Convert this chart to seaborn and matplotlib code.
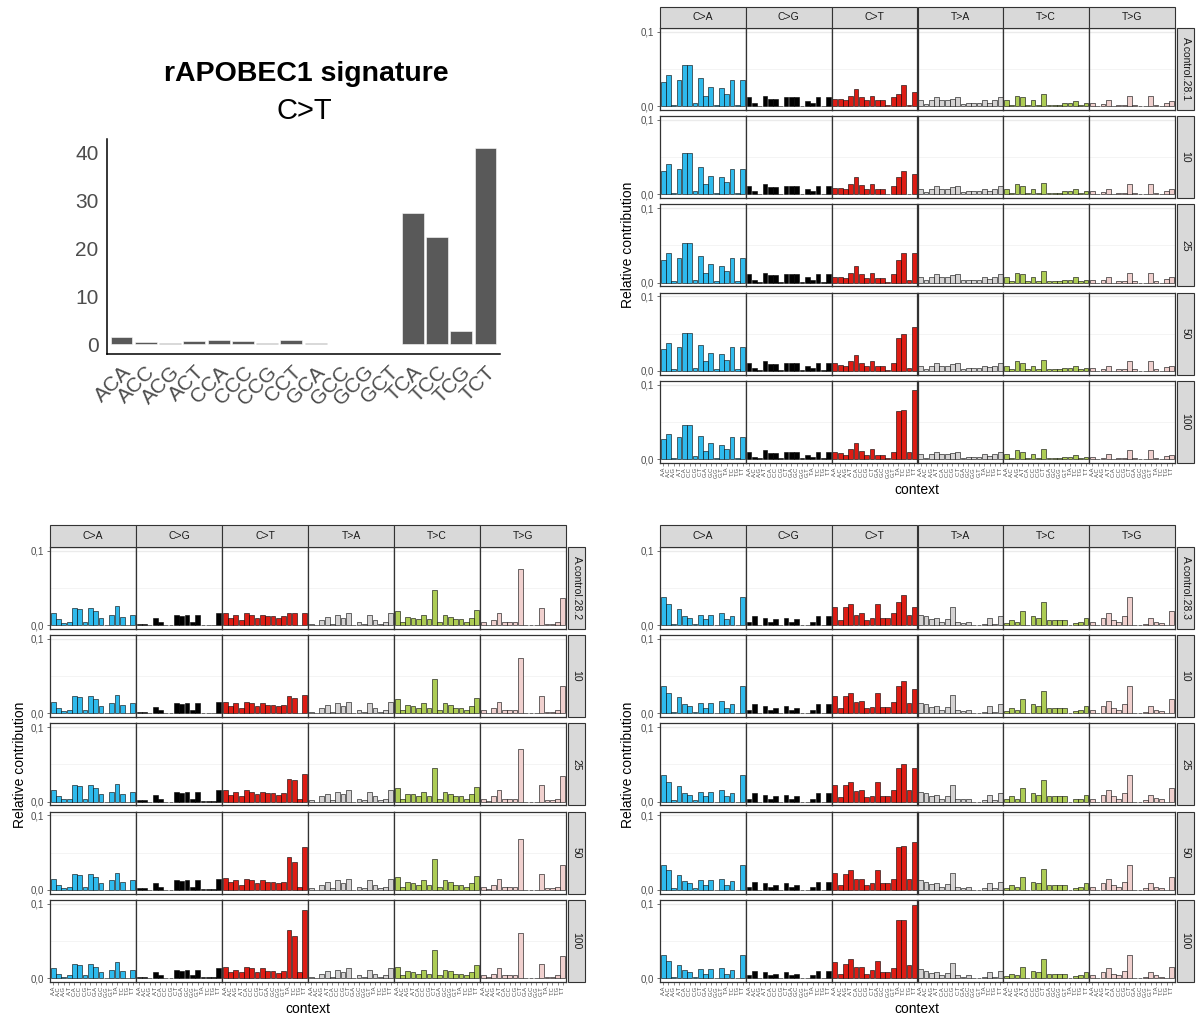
import numpy as np
import pandas as pd
import matplotlib
matplotlib.use("Agg")
import matplotlib.pyplot as plt
from matplotlib.patches import Rectangle
import seaborn as sns

W, H = 1198, 1019

# ---------------------------------------------------------------- data
# rAPOBEC1 signature, C>T trinucleotide contexts (percent)
sig_contexts = ["ACA", "ACC", "ACG", "ACT", "CCA", "CCC", "CCG", "CCT",
                "GCA", "GCC", "GCG", "GCT", "TCA", "TCC", "TCG", "TCT"]
sig_values = [1.5, 0.4, 0.3, 0.6, 0.9, 0.6, 0.3, 0.9,
              0.3, 0.15, 0.15, 0.05, 27.4, 22.5, 2.8, 41.0]

mut_types = ["C>A", "C>G", "C>T", "T>A", "T>C", "T>G"]
mut_colors = ["#2EBAED", "#000000", "#DE1C14", "#D4D2D2", "#ADCC54", "#F0D0CE"]
tick_contexts = ["A.A", "A.C", "A.G", "A.T", "C.A", "C.C", "C.G", "C.T",
                 "G.A", "G.C", "G.G", "G.T", "T.A", "T.C", "T.G", "T.T"]

rows_s1 = ["A.control.28.1", "10", "25", "50", "100"]
rows_s2 = ["A.control.28.2", "10", "25", "50", "100"]
rows_s3 = ["A.control.28.3", "10", "25", "50", "100"]

# 96-channel profiles, relative contribution in thousandths
# (order: C>A, C>G, C>T, T>A, T>C, T>G; 16 contexts each)
s1_ctrl = [
    33, 42, 2, 35, 56, 56, 4, 38, 14, 26, 2, 24, 17, 35, 2, 35,
    12, 4, 1, 14, 10, 10, 1, 12, 12, 12, 1, 7, 4, 12, 1, 12,
    10, 10, 8, 14, 23, 12, 8, 14, 8, 8, 2, 12, 17, 28, 2, 19,
    8, 3, 8, 12, 8, 8, 10, 12, 3, 4, 4, 4, 8, 5, 8, 12,
    8, 2, 14, 12, 2, 8, 2, 17, 2, 2, 2, 4, 4, 7, 2, 4,
    4, 0, 3, 8, 0, 2, 2, 14, 2, 0, 0, 14, 2, 0, 5, 7,
]
s1_10 = [
    32, 41, 2, 34, 55, 55, 4, 37, 14, 25, 2, 23, 17, 34, 2, 34,
    12, 4, 1, 14, 10, 10, 1, 12, 12, 12, 1, 7, 4, 12, 1, 12,
    9, 9, 8, 14, 23, 13, 8, 14, 8, 7, 1, 12, 23, 32, 1, 28,
    8, 3, 8, 12, 8, 8, 10, 12, 3, 4, 4, 4, 8, 5, 8, 12,
    8, 2, 14, 12, 2, 8, 2, 16, 2, 2, 2, 4, 4, 7, 2, 4,
    4, 0, 3, 7, 0, 2, 2, 14, 2, 0, 0, 14, 2, 0, 5, 7,
]
s1_25 = [
    31, 40, 2, 33, 53, 53, 4, 36, 13, 25, 2, 23, 16, 33, 2, 33,
    11, 4, 1, 13, 10, 10, 1, 11, 11, 11, 1, 7, 4, 11, 1, 11,
    8, 8, 6, 13, 22, 11, 6, 13, 6, 6, 1, 11, 31, 40, 4, 40,
    8, 3, 8, 11, 8, 8, 10, 11, 3, 4, 4, 4, 8, 5, 8, 11,
    8, 2, 13, 11, 2, 8, 2, 16, 2, 2, 2, 4, 4, 7, 2, 4,
    4, 0, 3, 8, 0, 2, 2, 13, 2, 0, 0, 13, 2, 0, 5, 7,
]
s1_50 = [
    30, 38, 2, 32, 51, 51, 4, 35, 13, 24, 2, 22, 15, 32, 2, 32,
    11, 4, 1, 13, 9, 9, 1, 11, 11, 11, 1, 6, 4, 11, 1, 11,
    10, 8, 7, 13, 21, 11, 7, 13, 7, 7, 1, 11, 44, 49, 4, 59,
    7, 3, 7, 11, 7, 7, 9, 11, 3, 4, 4, 4, 7, 5, 7, 11,
    7, 2, 13, 11, 2, 7, 2, 15, 2, 2, 2, 4, 4, 6, 2, 4,
    4, 0, 3, 7, 0, 2, 2, 13, 2, 0, 0, 13, 2, 0, 5, 6,
]
s1_100 = [
    27, 34, 2, 29, 46, 46, 4, 31, 11, 21, 2, 19, 14, 29, 2, 29,
    10, 3, 1, 12, 8, 8, 1, 10, 10, 10, 1, 6, 3, 10, 1, 10,
    10, 8, 6, 13, 21, 11, 6, 13, 6, 6, 1, 10, 65, 66, 9, 93,
    7, 2, 7, 10, 7, 7, 8, 10, 2, 3, 3, 3, 7, 4, 7, 10,
    7, 2, 12, 10, 2, 7, 2, 14, 2, 2, 2, 3, 3, 6, 2, 3,
    3, 0, 2, 7, 0, 2, 2, 12, 2, 0, 0, 12, 2, 0, 4, 6,
]

s2_ctrl = [
    16, 8, 3, 4, 23, 22, 4, 23, 19, 10, 0, 14, 26, 11, 0, 14,
    2, 2, 0, 10, 4, 0, 0, 14, 13, 14, 4, 14, 1, 1, 1, 16,
    16, 10, 14, 7, 16, 14, 10, 14, 12, 12, 10, 12, 16, 16, 1, 16,
    2, 0, 7, 11, 2, 14, 10, 16, 0, 4, 2, 14, 7, 2, 4, 16,
    19, 4, 11, 10, 8, 14, 8, 47, 4, 14, 11, 8, 8, 4, 10, 21,
    4, 1, 7, 16, 4, 4, 4, 75, 0, 0, 0, 23, 2, 2, 4, 37,
]
s2_10 = [
    16, 8, 3, 4, 23, 22, 4, 23, 19, 10, 0, 14, 25, 11, 0, 14,
    2, 2, 0, 9, 4, 0, 0, 14, 13, 14, 4, 14, 1, 1, 1, 16,
    16, 10, 14, 7, 16, 14, 10, 14, 12, 12, 10, 12, 23, 21, 1, 25,
    2, 0, 7, 11, 2, 14, 10, 16, 0, 4, 2, 14, 7, 2, 4, 16,
    19, 4, 11, 10, 8, 14, 8, 46, 4, 14, 11, 8, 8, 4, 10, 21,
    4, 1, 7, 16, 4, 4, 4, 74, 0, 0, 0, 23, 2, 2, 4, 37,
]
s2_25 = [
    15, 8, 3, 4, 22, 21, 4, 22, 18, 10, 0, 13, 24, 10, 0, 13,
    2, 2, 0, 9, 4, 0, 0, 13, 12, 13, 4, 13, 1, 1, 1, 15,
    15, 9, 13, 7, 15, 13, 10, 13, 11, 11, 9, 11, 31, 29, 4, 37,
    2, 0, 7, 10, 2, 13, 10, 15, 0, 4, 2, 13, 7, 2, 4, 15,
    18, 4, 10, 10, 8, 13, 8, 45, 4, 13, 10, 8, 8, 4, 10, 20,
    4, 1, 7, 15, 4, 4, 4, 71, 0, 0, 0, 22, 2, 2, 4, 35,
]
s2_50 = [
    14, 7, 3, 4, 21, 20, 4, 21, 17, 9, 0, 13, 23, 10, 0, 13,
    2, 2, 0, 9, 4, 0, 0, 13, 12, 13, 4, 13, 1, 1, 1, 14,
    16, 10, 13, 7, 15, 13, 9, 13, 11, 11, 9, 11, 44, 38, 4, 57,
    2, 0, 6, 10, 2, 13, 9, 14, 0, 4, 2, 13, 6, 2, 4, 14,
    17, 4, 10, 9, 7, 13, 7, 42, 4, 13, 10, 7, 7, 4, 9, 19,
    4, 1, 6, 14, 4, 4, 4, 68, 0, 0, 0, 21, 2, 2, 4, 34,
]
s2_100 = [
    13, 6, 2, 4, 19, 17, 4, 19, 15, 8, 0, 11, 21, 9, 0, 11,
    2, 2, 0, 8, 4, 0, 0, 11, 10, 11, 4, 11, 1, 1, 1, 13,
    15, 8, 11, 8, 15, 13, 8, 13, 9, 9, 7, 9, 65, 57, 8, 91,
    2, 0, 6, 9, 2, 11, 8, 13, 0, 4, 2, 11, 6, 2, 4, 13,
    15, 4, 9, 8, 6, 11, 6, 38, 4, 11, 9, 6, 6, 4, 8, 17,
    4, 1, 6, 13, 4, 4, 4, 61, 0, 0, 0, 19, 2, 2, 4, 30,
]

s3_ctrl = [
    38, 29, 2, 22, 13, 10, 2, 14, 8, 14, 0, 17, 8, 13, 0, 38,
    4, 13, 0, 10, 4, 8, 0, 10, 4, 8, 0, 0, 4, 13, 0, 13,
    25, 7, 25, 29, 14, 17, 7, 10, 29, 10, 10, 17, 31, 41, 14, 25,
    14, 13, 9, 10, 4, 9, 25, 4, 3, 4, 0, 0, 2, 10, 2, 13,
    3, 7, 4, 19, 0, 13, 10, 31, 7, 7, 7, 7, 0, 3, 4, 10,
    4, 0, 10, 17, 7, 4, 13, 38, 0, 0, 2, 10, 5, 3, 0, 19,
]
s3_10 = [
    37, 28, 2, 22, 13, 10, 2, 14, 8, 14, 0, 17, 8, 13, 0, 37,
    4, 13, 0, 10, 4, 8, 0, 10, 4, 8, 0, 0, 4, 13, 0, 13,
    24, 7, 24, 27, 15, 17, 7, 9, 28, 9, 9, 16, 37, 44, 14, 33,
    14, 13, 9, 10, 4, 9, 25, 4, 3, 4, 0, 0, 2, 10, 2, 13,
    3, 7, 4, 19, 0, 13, 10, 30, 7, 7, 7, 7, 0, 3, 4, 10,
    4, 0, 10, 17, 7, 4, 13, 37, 0, 0, 2, 10, 5, 3, 0, 19,
]
s3_25 = [
    36, 27, 2, 21, 12, 9, 2, 13, 7, 13, 0, 16, 7, 12, 0, 36,
    4, 12, 0, 9, 4, 8, 0, 9, 4, 8, 0, 0, 4, 12, 0, 12,
    22, 6, 22, 27, 14, 15, 6, 8, 27, 8, 8, 15, 45, 51, 15, 45,
    13, 12, 8, 9, 4, 8, 23, 4, 3, 4, 0, 0, 2, 9, 2, 12,
    3, 7, 4, 18, 0, 12, 9, 29, 7, 7, 7, 7, 0, 3, 4, 9,
    4, 0, 9, 16, 7, 4, 12, 36, 0, 0, 2, 9, 5, 3, 0, 18,
]
s3_50 = [
    34, 27, 2, 20, 12, 9, 2, 13, 7, 13, 0, 15, 7, 12, 0, 34,
    4, 11, 0, 9, 4, 7, 0, 9, 4, 7, 0, 0, 4, 11, 0, 11,
    23, 6, 21, 26, 15, 15, 6, 9, 26, 9, 9, 15, 58, 59, 15, 64,
    13, 11, 8, 9, 4, 8, 22, 4, 3, 4, 0, 0, 2, 9, 2, 11,
    3, 6, 4, 17, 0, 11, 9, 28, 6, 6, 6, 6, 0, 3, 4, 9,
    4, 0, 9, 15, 6, 4, 11, 34, 0, 0, 2, 9, 4, 3, 0, 17,
]
s3_100 = [
    31, 23, 2, 17, 11, 8, 2, 12, 6, 12, 0, 14, 6, 11, 0, 31,
    4, 10, 0, 8, 4, 6, 0, 8, 4, 6, 0, 0, 4, 10, 0, 10,
    21, 6, 19, 25, 15, 15, 6, 11, 23, 8, 8, 14, 78, 78, 17, 98,
    12, 10, 7, 8, 4, 7, 20, 4, 2, 4, 0, 0, 2, 8, 2, 10,
    3, 6, 4, 15, 0, 10, 8, 25, 6, 6, 6, 6, 0, 3, 4, 8,
    4, 0, 8, 14, 6, 4, 10, 31, 0, 0, 2, 8, 4, 2, 0, 15,
]

# ---------------------------------------------------------------- style
sns.set_style("white")
plt.rcParams["font.family"] = ["Liberation Sans", "DejaVu Sans"]

TEXT_GREY = "#4D4D4D"
LINE_DARK = "#333333"
STRIP_FILL = "#D9D9D9"

fig = plt.figure(figsize=(W / 100, H / 100), dpi=100)


def px_axes(x, y, w, h):
    """Axes placed by pixel box (x, y = top-left corner)."""
    return fig.add_axes([x / W, 1 - (y + h) / H, w / W, h / H])


def px_rect(x, y, w, h):
    fig.patches.append(Rectangle((x / W, 1 - (y + h) / H), w / W, h / H,
                                 transform=fig.transFigure, facecolor=STRIP_FILL,
                                 edgecolor=LINE_DARK, linewidth=0.8, zorder=1))


def long_table(rows, labels):
    recs = []
    for lab, vals in zip(labels, rows):
        for i, v in enumerate(vals):
            recs.append({"sample": lab, "substitution": mut_types[i // 16],
                         "context": tick_contexts[i % 16], "value": v / 1000.0})
    return pd.DataFrame(recs)


PANEL_H = 82.0
PITCH = 88.2


def draw_grid(df, labels, x0, x1, strip_top, top0, ylab_xy, ctx_xy):
    cw = (x1 - x0) / 6.0
    for c, mt in enumerate(mut_types):
        px_rect(x0 + c * cw, strip_top, cw, top0 - strip_top)
        fig.text((x0 + (c + 0.5) * cw) / W, 1 - (strip_top + (top0 - strip_top) / 2) / H,
                 mt, ha="center", va="center", fontsize=7.5, color="#1A1A1A")
    for r, lab in enumerate(labels):
        top = top0 + r * PITCH
        last = r == len(labels) - 1
        for c, mt in enumerate(mut_types):
            ax = px_axes(x0 + c * cw, top, cw, PANEL_H)
            sub = df[(df["sample"] == lab) & (df["substitution"] == mt)]
            ax.axhline(0.05, color="#F2F2F2", lw=0.6, zorder=0)
            ax.axhline(0.1, color="#EBEBEB", lw=1.0, zorder=0)
            sns.barplot(data=sub, x="context", y="value", order=tick_contexts,
                        color=mut_colors[c], saturation=1, width=0.9,
                        edgecolor="black", linewidth=0.4, ax=ax, zorder=2)
            ax.set_xlim(-0.6, 15.6)
            ax.set_ylim(-0.005, 0.105)
            ax.set_xlabel("")
            ax.set_ylabel("")
            for s in ax.spines.values():
                s.set_visible(True)
                s.set_color(LINE_DARK)
                s.set_linewidth(0.9)
            ax.set_yticks([0.0, 0.1])
            if c == 0:
                ax.set_yticklabels(["0,0", "0,1"])
                ax.tick_params(axis="y", left=True, length=2.5, width=0.5,
                               color=LINE_DARK, labelsize=7, labelcolor=TEXT_GREY, pad=1.5)
            else:
                ax.tick_params(axis="y", left=False, labelleft=False)
            ax.set_xticks(range(16))
            if last:
                ax.set_xticklabels(tick_contexts, rotation=90)
                ax.tick_params(axis="x", bottom=True, length=2, width=0.4,
                               color=LINE_DARK, labelsize=4.2, labelcolor=TEXT_GREY, pad=1)
            else:
                ax.tick_params(axis="x", bottom=False, labelbottom=False)
        # row strip on the right
        px_rect(x1 + 2, top, 17, PANEL_H)
        fig.text((x1 + 2 + 8.5) / W, 1 - (top + PANEL_H / 2) / H, lab, rotation=-90,
                 ha="center", va="center", fontsize=7.5, color="#1A1A1A")
    fig.text(ylab_xy[0] / W, 1 - ylab_xy[1] / H, "Relative contribution", rotation=90,
             ha="center", va="center", fontsize=10, color="black")
    fig.text(ctx_xy[0] / W, 1 - ctx_xy[1] / H, "context",
             ha="center", va="center", fontsize=10, color="black")


# ---------------------------------------------------------------- signature bar chart
ax0 = px_axes(107, 139, 393, 215)
sig_df = pd.DataFrame({"context": sig_contexts, "value": sig_values})
sns.barplot(data=sig_df, x="context", y="value", color="#595959", saturation=1,
            width=0.9, edgecolor="white", linewidth=0.4, ax=ax0)
ax0.set_xlim(-0.6, 15.6)
ax0.set_ylim(-2.04, 42.9)
ax0.set_yticks([0, 10, 20, 30, 40])
ax0.set_xlabel("")
ax0.set_ylabel("")
for side in ["top", "right"]:
    ax0.spines[side].set_visible(False)
for side in ["left", "bottom"]:
    ax0.spines[side].set_color("black")
    ax0.spines[side].set_linewidth(1.1)
ax0.tick_params(axis="both", length=4, width=0.8, color=LINE_DARK,
                labelsize=15, labelcolor=TEXT_GREY, pad=2)
ax0.set_xticks(range(16))
ax0.set_xticklabels(sig_contexts, rotation=45, ha="right", va="top",
                    rotation_mode="anchor")
fig.text(306 / W, 1 - 74 / H, "rAPOBEC1 signature", ha="center", va="center",
         fontsize=20.5, fontweight="bold", color="black")
fig.text(304 / W, 1 - 111 / H, "C>T", ha="center", va="center",
         fontsize=21, color="black")

# ---------------------------------------------------------------- profile grids
df1 = long_table([s1_ctrl, s1_10, s1_25, s1_50, s1_100], rows_s1)
df2 = long_table([s2_ctrl, s2_10, s2_25, s2_50, s2_100], rows_s2)
df3 = long_table([s3_ctrl, s3_10, s3_25, s3_50, s3_100], rows_s3)

draw_grid(df1, rows_s1, 660, 1175, 7, 28, (628, 245), (917, 490))
draw_grid(df2, rows_s2, 50, 566, 525, 547, (20, 765), (308, 1009))
draw_grid(df3, rows_s3, 660, 1175, 525, 547, (628, 765), (917, 1009))

fig.savefig("out.png", dpi=100, facecolor="white")
